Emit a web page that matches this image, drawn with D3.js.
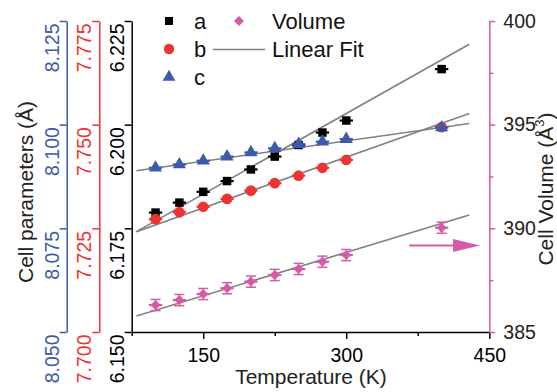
<!DOCTYPE html>
<html>
<head>
    <title>Cell parameters vs temperature</title>
    <script src="https://cdnjs.cloudflare.com/ajax/libs/d3/7.8.5/d3.min.js" type="text/JavaScript"></script>
    <style>
        body{
            margin: 0;
            background: white;
        }
        svg{
            display: block;
            font-family: 'Liberation Sans', Arial, sans-serif;
        }
    </style>
</head>
<body>
    <svg id="chart" width="557" height="392"></svg>

    <script>
        // temperatures (K)
        var temps = [100, 125, 150, 175, 200, 225, 250, 275, 300, 400];
        // lattice parameters (Å)
        var aVals = [6.1788, 6.1812, 6.1838, 6.1864, 6.1892, 6.1923, 6.1951, 6.1981, 6.2010, 6.2134];
        var bVals = [7.7272, 7.7289, 7.7302, 7.7321, 7.7341, 7.7359, 7.7377, 7.7396, 7.7415, 7.7494];
        var cVals = [8.0896, 8.0904, 8.0913, 8.0923, 8.0933, 8.0943, 8.0953, 8.0959, 8.0965, 8.0993];
        // cell volume (Å^3)
        var vVals = [386.30, 386.54, 386.83, 387.11, 387.43, 387.75, 388.04, 388.39, 388.71, 390.03];
        var tErr = 7;
        var vErr = 0.27;

        // linear fits, end points
        var fitT = [80, 429];
        var fitA = [6.1742, 6.2194];
        var fitB = [7.7242, 7.7527];
        var fitC = [8.0889, 8.1003];
        var fitV = [385.77, 390.64];

        var xTicks = [150, 300, 450];
        var xMinor = [75, 225, 375];
        var aTicks = [6.150, 6.175, 6.200, 6.225];
        var bTicks = [7.700, 7.725, 7.750, 7.775];
        var cTicks = [8.050, 8.075, 8.100, 8.125];
        var vTicks = [385, 390, 395, 400];
        var vMinor = [387.5, 392.5, 397.5];

        var black = "#000000", red = "#ee3333", blue = "#3d5aab", pink = "#d65aa6", grey = "#808080";

        var svg = d3.select("#chart");
        svg.append("rect").attr("width", 557).attr("height", 392).attr("fill", "white");

        var xScale = d3.scaleLinear().domain([75, 450]).range([131.7, 489.3]);
        var yA = d3.scaleLinear().domain([6.150, 6.225]).range([332, 21]);
        var yB = d3.scaleLinear().domain([7.700, 7.775]).range([332, 21]);
        var yC = d3.scaleLinear().domain([8.050, 8.125]).range([332, 21]);
        var yV = d3.scaleLinear().domain([385, 400]).range([332, 21]);

        // left axes, rotated labels
        function leftAxis(scale, ticks, xPos, color){
            var g = svg.append("g")
                .attr("transform", `translate(${xPos},0)`)
                .call(d3.axisLeft(scale).tickValues(ticks).tickSize(7).tickSizeOuter(0).tickFormat(d3.format(".3f")));
            g.select(".domain").attr("stroke", color).attr("stroke-width", 1.5);
            g.selectAll(".tick line").attr("stroke", color).attr("stroke-width", 1.5);
            g.selectAll(".tick text")
                .attr("fill", color)
                .attr("font-size", 19.5)
                .attr("transform", "rotate(-90)")
                .attr("x", -2)
                .attr("y", -8)
                .attr("dy", 0)
                .attr("text-anchor", "end");
        }
        leftAxis(yC, cTicks, 66.7, blue);
        leftAxis(yB, bTicks, 99.3, red);
        leftAxis(yA, aTicks, 131.7, black);

        // x axis
        var xG = svg.append("g")
            .attr("transform", "translate(0,332)")
            .call(d3.axisBottom(xScale).tickValues(xTicks).tickSize(7).tickSizeOuter(0));
        xG.select(".domain").attr("stroke-width", 1.5);
        xG.selectAll(".tick line").attr("stroke-width", 1.5);
        xG.selectAll(".tick text").attr("font-size", 19.5).attr("dy", 0).attr("y", 30);
        var xMin = svg.append("g")
            .attr("transform", "translate(0,332)")
            .call(d3.axisBottom(xScale).tickValues(xMinor).tickSize(4).tickFormat(""));
        xMin.select(".domain").remove();
        xMin.selectAll(".tick line").attr("stroke-width", 1.5);

        // right axis (volume)
        var vG = svg.append("g")
            .attr("transform", "translate(489.3,0)")
            .call(d3.axisRight(yV).tickValues(vTicks).tickSize(6).tickPadding(8).tickSizeOuter(0));
        vG.select(".domain").attr("stroke", pink).attr("stroke-width", 1.5);
        vG.selectAll(".tick line").attr("stroke", pink).attr("stroke-width", 1.5);
        vG.selectAll(".tick text").attr("font-size", 19.5).attr("fill", "#222");
        var vMin = svg.append("g")
            .attr("transform", "translate(489.3,0)")
            .call(d3.axisRight(yV).tickValues(vMinor).tickSize(4).tickFormat(""));
        vMin.select(".domain").remove();
        vMin.selectAll(".tick line").attr("stroke", pink).attr("stroke-width", 1.5);

        // axis titles
        svg.append("text")
            .attr("transform", "translate(33,192) rotate(-90)")
            .attr("text-anchor", "middle")
            .attr("font-size", 21)
            .attr("fill", "#222")
            .text("Cell parameters (Å)");

        svg.append("text")
            .attr("x", 311).attr("y", 384)
            .attr("text-anchor", "middle")
            .attr("font-size", 21)
            .attr("fill", "#222")
            .text("Temperature (K)");

        var vt = svg.append("text")
            .attr("transform", "translate(553,189) rotate(-90)")
            .attr("text-anchor", "middle")
            .attr("font-size", 21)
            .attr("fill", "#222");
        vt.append("tspan").text("Cell Volume (Å");
        vt.append("tspan").attr("font-size", 13).attr("dy", -9).text("3");
        vt.append("tspan").attr("dy", 9).text(")");

        // fit lines
        var fitLine = d3.line().x(d => xScale(d[0])).y(d => d[1]);
        [[fitA, yA], [fitB, yB], [fitC, yC], [fitV, yV]].forEach(function(f){
            var pts = fitT.map((t, i) => [t, f[1](f[0][i])]);
            svg.append("path")
                .attr("d", fitLine(pts))
                .attr("fill", "none")
                .attr("stroke", grey)
                .attr("stroke-width", 1.6);
        });

        // series with horizontal error bars
        function series(vals, scale, color, symbol, size, rot){
            var data = temps.map((t, i) => ({t: t, v: vals[i]}));
            var g = svg.append("g");
            g.selectAll("line.eb")
                .data(data).enter().append("line")
                .attr("x1", d => xScale(d.t - tErr))
                .attr("x2", d => xScale(d.t + tErr))
                .attr("y1", d => scale(d.v))
                .attr("y2", d => scale(d.v))
                .attr("stroke", color)
                .attr("stroke-width", 2.2);
            g.selectAll("path.sym")
                .data(data).enter().append("path")
                .attr("transform", d => `translate(${xScale(d.t)},${scale(d.v)}) rotate(${rot || 0})`)
                .attr("d", d3.symbol().type(symbol).size(size))
                .attr("fill", color);
            return {g: g, data: data};
        }
        series(aVals, yA, black, d3.symbolSquare, 72);
        series(bVals, yB, red, d3.symbolCircle, 90);
        series(cVals, yC, blue, d3.symbolTriangle, 75);
        var vs = series(vVals, yV, pink, d3.symbolSquare, 50, 45);

        // vertical error bars on volume
        vs.g.selectAll("line.vb")
            .data(vs.data).enter().append("line")
            .attr("x1", d => xScale(d.t)).attr("x2", d => xScale(d.t))
            .attr("y1", d => yV(d.v - vErr)).attr("y2", d => yV(d.v + vErr))
            .attr("stroke", pink).attr("stroke-width", 1.5);
        [-1, 1].forEach(function(s){
            vs.g.selectAll("line.cap" + s)
                .data(vs.data).enter().append("line")
                .attr("x1", d => xScale(d.t) - 5).attr("x2", d => xScale(d.t) + 5)
                .attr("y1", d => yV(d.v + s * vErr)).attr("y2", d => yV(d.v + s * vErr))
                .attr("stroke", pink).attr("stroke-width", 1.5);
        });

        // arrow pointing to volume axis
        var arrowY = yV(389.17);
        svg.append("line")
            .attr("x1", xScale(366)).attr("x2", xScale(413))
            .attr("y1", arrowY).attr("y2", arrowY)
            .attr("stroke", pink).attr("stroke-width", 2);
        svg.append("path")
            .attr("d", `M${xScale(412)},${arrowY - 6.5}L${xScale(440)},${arrowY}L${xScale(412)},${arrowY + 6.5}Z`)
            .attr("fill", pink);

        // legend
        var legend = svg.append("g").attr("font-size", 22).attr("fill", "#111");
        var legRows = [
            {label: "a", color: black, sym: d3.symbolSquare, size: 64, x: 169, y: 21},
            {label: "b", color: red, sym: d3.symbolCircle, size: 85, x: 169, y: 49},
            {label: "c", color: blue, sym: d3.symbolTriangle, size: 70, x: 169, y: 77}
        ];
        legRows.forEach(function(r){
            legend.append("path")
                .attr("transform", `translate(${r.x},${r.y})`)
                .attr("d", d3.symbol().type(r.sym).size(r.size))
                .attr("fill", r.color);
            legend.append("text").attr("x", 194).attr("y", r.y + 7.5).text(r.label);
        });
        legend.append("path")
            .attr("transform", "translate(239,21) rotate(45)")
            .attr("d", d3.symbol().type(d3.symbolSquare).size(50))
            .attr("fill", pink);
        legend.append("text").attr("x", 272).attr("y", 28.5).text("Volume");
        legend.append("line")
            .attr("x1", 213).attr("x2", 265).attr("y1", 49.5).attr("y2", 49.5)
            .attr("stroke", grey).attr("stroke-width", 1.6);
        legend.append("text").attr("x", 272).attr("y", 56.5).text("Linear Fit");
    </script>
</body>
</html>
